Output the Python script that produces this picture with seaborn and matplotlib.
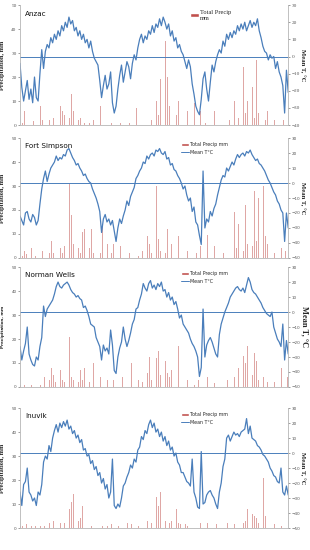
import matplotlib
matplotlib.use("Agg")
import matplotlib.pyplot as plt
from matplotlib.patches import Patch
from matplotlib.lines import Line2D
import pandas as pd
import seaborn as sns

sns.set_theme(style="white")
plt.rcParams['font.family'] = ['DejaVu Sans']

START = pd.Timestamp("2007-01-01")
END = pd.Timestamp("2009-11-01")

# weekly mean temperature, °C
anzac_temp = [-4, -18, -26, -20, -14, -25, -19, -27, -12, -24,
              -26, -10, 4, -7, 3, 7, 5, 11, 8, 13,
              10, 15, 12, 18, 15, 20, 17, 23, 19, 21,
              15, 17, 12, 15, 10, 13, 8, 10, 5, 9,
              3, -1, -3, -5, -14, -24, -17, -11, -19, -16,
              -9, -27, -33, -29, -19, -11, -5, -15, -9, -3,
              -6, -13, -4, 1, -2, 5, 10, 13, 8, 12,
              10, 15, 13, 18, 14, 19, 17, 22, 18, 23,
              20, 16, 19, 12, 15, 9, 11, 5, 7, 3,
              1, -3, -7, -2, -6, -16, -22, -29, -32, -34,
              -25, -13, -9, -19, -26, -15, -5, -9, -3, 1,
              4, 2, 9, 6, 13, 10, 14, 11, 15, 13,
              18, 15, 19, 16, 20, 15, 18, 21, 17, 20,
              18, 22, 15, 11, 6, 3, 2, -2, 1, -1,
              0, -7, -3, -9, -12, -17, -33, -8, -21]
simpson_temp = [-22, -25, -28, -20, -19, -24, -26, -21, -23, -28,
                -25, -14, -4, 3, 8, 1, 6, 10, 12, 14,
                18, 15, 17, 16, 19, 18, 22, 23, 20, 17,
                15, 12, 13, 10, 8, 5, 6, 3, 1, 0,
                -4, -7, -10, -14, -19, -33, -24, -21, -26, -24,
                -28, -25, -32, -39, -30, -24, -27, -22, -18, -12,
                -15, -9, -6, -3, 3, 5, 8, 10, 14, 13,
                18, 16, 19, 20, 18, 22, 21, 23, 20, 19,
                21, 16, 17, 12, 13, 9, 8, 5, 3, 0,
                -4, -2, -8, -12, -10, -19, -16, -26, -28, -35,
                -41, 8, -30, -24, -26, -19, -22, -17, -14, -8,
                -3, 2, 5, 4, 10, 8, 11, 14, 12, 16,
                19, 17, 19, 20, 18, 21, 20, 22, 19, 17,
                15, 16, 13, 12, 10, 8, 5, 2, 0, -3,
                -6, -8, -12, -14, -18, -20, -39, -20, -30]
wells_temp = [-23, -32, -26, -21, -10, -28, -32, -35, -36, -30,
              -32, -23, -17, 4, -3, 2, 4, 6, 8, 12,
              17, 20, 17, 16, 18, 19, 20, 18, 15, 13,
              12, 10, 11, 9, 8, 3, 4, 1, -3, -8,
              -9, -10, -17, -20, -23, -32, -22, -26, -24, -28,
              -12, -22, -39, -41, -30, -24, -20, -10, -18, -23,
              -19, -14, -8, -5, 2, 3, 8, 12, 19, 16,
              14, 19, 21, 16, 18, 15, 19, 17, 20, 14,
              15, 10, 13, 8, 10, 5, 7, 2, -4, -2,
              -8, -10, -12, -14, -18, -21, -23, -26, -30, -43,
              -37, 2, -30, -22, -19, -17, -20, -24, -28, -30,
              -15, -8, -4, 0, 3, 6, 10, 12, 14, 16,
              17, 15, 14, 16, 13, 18, 23, 20, 15, 13,
              12, 10, 8, 6, 3, 1, -1, -2, -3, 0,
              -10, -14, -18, -20, -23, -8, -32, -19, -28]
inuvik_temp = [-26, -35, -21, -19, -10, -26, -28, -32, -30, -35,
               -26, -28, -21, -6, -2, -4, 5, 1, 10, 15,
               19, 14, 20, 17, 21, 18, 22, 16, 18, 13,
               15, 10, 12, 7, 9, 2, 3, -2, -1, -7,
               -5, -11, -9, -15, -13, -20, -17, -24, -21, -30,
               -26, -4, -35, -37, -34, -36, -30, -22, -20, -16,
               -13, -8, -10, -4, -6, 2, 4, 11, 9, 15,
               13, 19, 22, 17, 20, 14, 16, 11, 14, 8,
               11, 5, 8, 2, 4, -2, 0, -6, -8, -13,
               -13, -16, -19, -20, -22, -4, -26, -30, -36, -37,
               1, -34, -33, -28, -26, -25, -28, -30, -34, -37,
               -26, -20, -9, -4, 10, 12, 8, 11, 14, 12,
               13, 11, 14, 15, 16, 23, 13, 18, 10, 9,
               8, 5, 4, 2, -1, -2, -4, -6, -10, -12,
               -15, -16, -19, -20, -10, -26, -28, -22, -28]

# precipitation events: week number since start, total mm
anzac_rain_week = [1, 2, 4, 5, 7, 9, 11, 12, 14, 16, 18, 20, 22, 23, 24, 25, 26, 27, 28, 29,
                   30, 31, 32, 33, 35, 38, 40, 42, 44, 46, 50, 55, 60, 64, 68, 72, 74, 75, 76, 77,
                   78, 79, 80, 81, 82, 84, 85, 86, 87, 89, 90, 92, 94, 96, 99, 102, 107, 110, 115, 118,
                   120, 122, 123, 124, 125, 126, 127, 128, 129, 130, 131, 132, 133, 135, 136, 140, 142, 145]
anzac_rain_mm = [1, 6, 2, 6, 1.5, 3, 8, 2, 8, 2, 3, 3, 8, 6, 4, 2, 9, 3, 13, 6,
                 24, 12, 2, 3, 1, 1, 2, 6, 8, 1, 1, 1, 1, 7, 1, 2, 3, 10, 4, 19,
                 5, 34, 35, 20, 8, 3, 14, 4, 10, 8, 2, 6, 2, 9, 6, 1, 6, 1, 2, 10,
                 3, 32, 24, 5, 10, 4, 6, 16, 3, 27, 5, 37, 10, 2, 6, 2, 8, 2]
simpson_rain_week = [2, 4, 6, 9, 12, 17, 18, 22, 25, 26, 27, 28, 29, 31, 34, 35, 37, 39, 41, 42,
                     45, 48, 51, 55, 60, 63, 68, 70, 71, 75, 76, 79, 81, 83, 87, 90, 94, 99, 103, 107,
                     110, 118, 120, 122, 124, 127, 129, 131, 132, 134, 135, 136, 138, 142, 144, 146,
                     1, 3, 5, 8, 10, 14, 16, 20, 23, 24, 30, 32, 33, 36, 38, 40, 44, 47, 50, 53,
                     57, 65, 67, 72, 74, 77, 78, 80, 85, 89, 92, 97, 101, 105, 112, 116, 119, 121, 123, 125,
                     126, 128, 130, 133, 137, 140, 143]
simpson_rain_mm = [3, 2, 4, 2, 3, 7, 2, 4, 25, 12, 31, 18, 6, 9.5, 11, 12, 9, 12, 11, 9,
                   14, 6, 6, 5, 2, 3, 12, 9, 6, 30, 8, 9, 12, 6, 9, 6, 8, 5, 9.5, 5,
                   6, 19, 14, 9, 22, 16, 28, 25, 33, 30, 9, 6, 5, 9, 4, 3,
                   1, 1.5, 1, 1, 2, 1, 2, 3, 2, 5, 3, 4, 2, 3, 4, 2, 2, 3, 2, 1,
                   1, 1, 3, 2, 4, 3, 5, 2, 3, 2, 3, 2, 1, 2, 2, 3, 4, 5, 3, 6,
                   4, 5, 7, 4, 3, 2, 2]
wells_rain_week = [0, 4, 9, 13, 15, 17, 18, 20, 22, 25, 27, 28, 29, 31, 33, 35, 37, 40, 41, 42,
                   44, 48, 51, 53, 56, 61, 62, 65, 69, 70, 71, 73, 75, 76, 79, 80, 81, 82, 83, 85,
                   87, 89, 92, 98, 103, 107, 114, 118, 120, 121, 122, 123, 124, 125, 126, 127, 129, 130, 132, 134,
                   138, 142, 144, 147,
                   2, 6, 11, 14, 16, 19, 21, 23, 24, 26, 30, 32, 34, 36, 38, 46, 58, 67, 72, 74,
                   77, 78, 84, 90, 96, 110, 116, 128, 131, 136, 140]
wells_rain_mm = [1, 2, 3, 4, 7, 8, 5, 4, 7, 17, 21, 4, 3, 12.5, 7, 8, 6, 10, 4, 7,
                 4, 3, 3, 1.5, 4, 10, 4, 3, 7, 6, 12.5, 11, 12, 15, 21, 11, 6, 4, 7, 5,
                 17, 4, 3, 3, 4, 1.5, 3, 4, 8, 10, 32, 13, 10, 17, 21, 8, 14, 11, 6, 4,
                 6, 7, 8, 4,
                 1, 1, 1, 2, 3, 2, 2, 3, 2, 5, 3, 2, 3, 2, 2, 1, 1, 2, 3, 4,
                 5, 3, 2, 2, 1, 1, 2, 5, 3, 2, 2]
inuvik_rain_week = [1, 3, 6, 11, 16, 18, 22, 25, 27, 28, 29, 30, 33, 34, 36, 37, 42, 48, 50, 57,
                    59, 61, 68, 70, 74, 75, 76, 77, 78, 80, 84, 85, 86, 87, 88, 91, 95, 99, 103, 108,
                    114, 118, 121, 125, 127, 128, 130, 133, 134, 135, 137, 138, 140, 144,
                    0, 4, 8, 13, 20, 24, 26, 31, 32, 39, 45, 54, 65, 72, 79, 82, 83, 92, 110, 123,
                    124, 126, 129, 131, 132]
inuvik_rain_mm = [1, 1.5, 1, 1, 2, 3, 2, 3, 8, 11, 14, 3, 4, 9, 6, 2, 1.5, 1, 1.5, 1.5,
                  2, 1.5, 4, 3, 3, 13, 9, 15, 16, 3, 16.5, 13, 8, 2, 1.5, 1.5, 2, 2, 2, 1.5,
                  2, 1.5, 1.5, 8, 32, 6, 4, 3, 21, 5, 2, 3, 1.5, 1,
                  1, 1, 1, 1, 1, 2, 3, 2, 3, 1, 1, 1, 1, 2, 4, 2, 3, 1, 1, 2,
                  3, 4, 5, 2, 3]

years = ["2007", "2008", "2009"]
year_pos = ["2007-06-15", "2008-06-15", "2009-06-01"]

stations = [
    ("Anzac", anzac_temp, anzac_rain_week, anzac_rain_mm, (-40, 30)),
    ("Fort Simpson", simpson_temp, simpson_rain_week, simpson_rain_mm, (-50, 30)),
    ("Norman Wells", wells_temp, wells_rain_week, wells_rain_mm, (-50, 30)),
    ("Inuvik", inuvik_temp, inuvik_rain_week, inuvik_rain_mm, (-50, 30)),
]

BLUE = "#4a7ebb"
RED = "#c0504d"
SERIF = ["Liberation Serif", "DejaVu Serif"]

fig = plt.figure(figsize=(3.1, 5.5), dpi=100)
boxes = [(0.0645, 0.7727, 0.8645, 0.218),
         (0.0645, 0.531, 0.8645, 0.218),
         (0.0645, 0.2964, 0.8645, 0.218),
         (0.0645, 0.040, 0.8645, 0.218)]

for i, (name, temp, rweek, rmm, tlim) in enumerate(stations):
    ax = fig.add_axes(boxes[i])
    ax2 = ax.twinx()

    tdf = pd.DataFrame({"date": pd.date_range(START, periods=len(temp), freq="7D"), "temp": temp})
    rdf = pd.DataFrame({"week": rweek, "mm": rmm})
    rdf["date"] = START + pd.to_timedelta(rdf["week"] * 7 + 3, unit="D")

    ax.bar(rdf["date"], rdf["mm"], width=2.5, color=RED, alpha=0.5, linewidth=0)
    ax.set_ylim(0, 50)
    ax.set_yticks(range(0, 51, 10))

    sns.lineplot(data=tdf, x="date", y="temp", ax=ax2, color=BLUE, linewidth=0.9, legend=False)
    ax2.axhline(0, color=BLUE, linewidth=0.7)
    ax2.set_ylim(*tlim)
    ax2.set_yticks(range(tlim[0], tlim[1] + 1, 10))
    ax.set_xlim(START, END)

    tick_font = SERIF if i == 0 else ["DejaVu Sans"]
    tick_size = 3.8 if i == 0 else 3.0
    for a in (ax, ax2):
        a.tick_params(axis="y", labelsize=tick_size, length=1.5, width=0.4, pad=1, colors="#555555")
        for lab in a.get_yticklabels():
            lab.set_family(tick_font)
        for s in a.spines.values():
            s.set_color("#bbbbbb")
            s.set_linewidth(0.5)
        a.spines["top"].set_visible(False)
        a.set_xlabel("")
    ax2.set_ylabel("")

    if i == 3:
        ax.set_xticks(pd.to_datetime(year_pos))
        ax.set_xticklabels(years, fontsize=5.5, color="#222222")
        ax.tick_params(axis="x", length=0, pad=8)
    else:
        ax.set_xticks([])
    ax2.set_xticks([])

    ax.text(0.02, 0.93, name, transform=ax.transAxes, fontsize=5.2, va="center", ha="left", color="#111111")

    if i == 2:
        ax.set_ylabel("Precipitation, mm", fontsize=3.0, fontweight="bold")
        ax2.set_ylabel("Mean T, °C", fontsize=6.0, fontweight="bold", family=SERIF, rotation=270)
        ax2.yaxis.set_label_coords(1.078, 0.5)
    else:
        ax.set_ylabel("Precipitation, mm", fontsize=4.6, fontweight="bold", family=SERIF)
        ax2.set_ylabel("Mean T, °C", fontsize=4.8, fontweight="bold", family=SERIF, rotation=270)
        ax2.yaxis.set_label_coords(1.065, 0.5)
    ax.yaxis.set_label_coords(-0.055, 0.5)

    if i == 0:
        handles = [Patch(facecolor=RED)]
        ax2.legend(handles, ["Total Precip\nmm"], loc="upper left", bbox_to_anchor=(0.62, 0.99),
                   frameon=False, prop={"family": SERIF, "size": 4.6},
                   handlelength=1.4, handleheight=0.5, handletextpad=0.2, borderpad=0.1)
    else:
        handles = [Patch(facecolor=RED), Line2D([], [], color=BLUE, linewidth=0.7)]
        ax2.legend(handles, ["Total Precip mm", "Mean T°C"], loc="upper left", bbox_to_anchor=(0.59, 0.99),
                   frameon=False, prop={"size": 3.4},
                   handlelength=1.6, handleheight=0.5, handletextpad=0.3, borderpad=0.1, labelspacing=0.6)

fig.savefig("out.png", dpi=100)
